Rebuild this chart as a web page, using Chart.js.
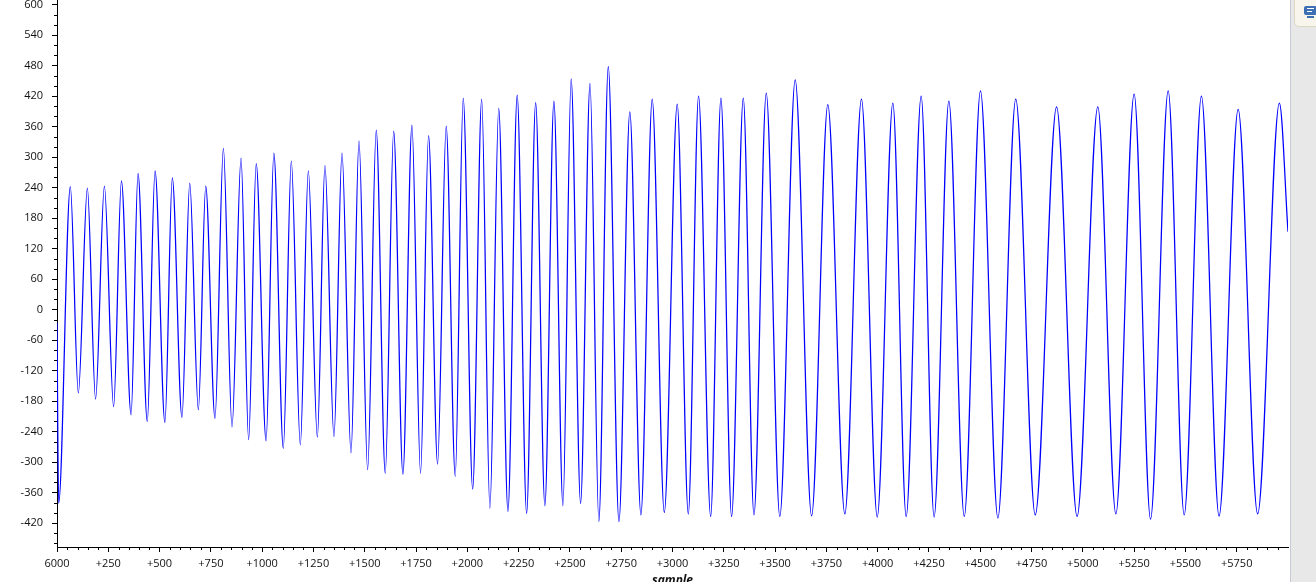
<!DOCTYPE html>
<html>
<head>
<meta charset="utf-8">
<script src="https://cdn.jsdelivr.net/npm/chart.js@4.4.1/dist/chart.umd.min.js"></script>
<style>
  html, body { margin: 0; padding: 0; background: #fff; overflow: hidden; }
  #wrap { position: absolute; left: 0; top: 0; width: 1290px; height: 590px; }
  #side { position: absolute; left: 1290px; top: 0; width: 26px; height: 582px; background: #e8e8e8; border-left: 1px solid #c6cad6; box-sizing: border-box; }
  #btn { position: absolute; left: 3px; top: -1px; width: 26px; height: 28px; background: #f8f6ec; border: 1px solid #dcd8c4; border-radius: 0 0 0 5px; box-sizing: border-box; }
  #mon { position: absolute; left: 9px; top: 6px; width: 13px; height: 9px; background: #3d6fb5; border-radius: 2px; }
  #mon i { position: absolute; left: 3px; height: 1px; background: #fff; }
  #stand { position: absolute; left: 12px; top: 16px; width: 7px; height: 2px; background: #3d6fb5; }
</style>
</head>
<body>
<div id="wrap"><canvas id="graph" width="1290" height="590"></canvas></div>
<div id="side"><div id="btn"><div id="mon"><i style="top:2px;width:7px"></i><i style="top:5px;width:5px"></i></div><div id="stand"></div></div></div>
<script>
// peaks and troughs (sample offset, value)
const sampleX = [0, 8, 65, 104, 148, 188, 231, 276, 314, 361, 395, 440, 478, 526, 562, 609, 647, 689, 725, 770,
  811, 853, 897, 934, 971, 1019, 1057, 1103, 1142, 1186, 1225, 1269, 1306, 1350, 1389, 1433, 1472, 1514,
  1556, 1600, 1641, 1686, 1730, 1772, 1811, 1855, 1897, 1941, 1980, 2026, 2070, 2110, 2153, 2198, 2243, 2289,
  2333, 2378, 2422, 2466, 2506, 2552, 2598, 2641, 2687, 2739, 2792, 2846, 2901, 2960, 3023, 3077, 3127, 3186,
  3236, 3288, 3345, 3397, 3457, 3523, 3598, 3678, 3757, 3840, 3921, 3998, 4074, 4139, 4212, 4275, 4347, 4422,
  4501, 4586, 4673, 4768, 4872, 4972, 5073, 5161, 5250, 5330, 5416, 5494, 5578, 5664, 5757, 5852, 5958, 6000];
const sampleY = [-26, -381, 242, -164, 239, -176, 243, -191, 253, -207, 268, -220, 273, -222, 259, -212, 249, -197, 243, -214,
  317, -231, 298, -256, 287, -258, 308, -273, 292, -266, 273, -251, 283, -250, 308, -282, 332, -315,
  353, -322, 351, -324, 363, -322, 342, -304, 361, -328, 416, -353, 414, -391, 396, -397, 422, -401,
  407, -386, 410, -386, 454, -381, 445, -417, 478, -417, 389, -404, 414, -399, 404, -402, 420, -407,
  416, -407, 416, -404, 426, -407, 452, -406, 403, -402, 414, -408, 406, -407, 420, -408, 410, -407,
  430, -410, 414, -404, 399, -407, 399, -402, 424, -412, 430, -404, 420, -406, 394, -402, 406, 153];

const xTickValues = [0, 250, 500, 750, 1000, 1250, 1500, 1750, 2000, 2250, 2500, 2750, 3000,
  3250, 3500, 3750, 4000, 4250, 4500, 4750, 5000, 5250, 5500, 5750];
const xTickLabels = ['6000', '+250', '+500', '+750', '+1000', '+1250', '+1500', '+1750', '+2000', '+2250', '+2500', '+2750', '+3000',
  '+3250', '+3500', '+3750', '+4000', '+4250', '+4500', '+4750', '+5000', '+5250', '+5500', '+5750'];
const yTickValues = [-420, -360, -300, -240, -180, -120, -60, 0, 60, 120, 180, 240, 300, 360, 420, 480, 540, 600];
const xTitle = 'sample';

let points = [];
for (let i = 0; i < sampleX.length; i++) {
  points.push({ x: sampleX[i], y: sampleY[i] });
}

// small ticks between the labelled ones
const minorTicks = {
  id: 'minorTicks',
  afterDraw(chart) {
    const c = chart.ctx;
    const xs = chart.scales.x;
    const ys = chart.scales.y;
    c.save();
    c.strokeStyle = '#000';
    c.lineWidth = 1;
    c.beginPath();
    for (let v = 0; v < 6000; v += 50) {
      if (v % 250 == 0) continue;
      let px = Math.round(xs.getPixelForValue(v)) + 0.5;
      c.moveTo(px, xs.top);
      c.lineTo(px, xs.top + 3);
    }
    for (let v = -460; v <= 600; v += 20) {
      if (v % 60 == 0) continue;
      let py = Math.round(ys.getPixelForValue(v)) + 0.5;
      c.moveTo(ys.right - 3, py);
      c.lineTo(ys.right, py);
    }
    c.stroke();
    c.restore();
  }
};

const ctx = document.getElementById('graph').getContext('2d');
const tickFont = { family: '"Open Sans", "DejaVu Sans", sans-serif', size: 11 };

new Chart(ctx, {
  type: 'line',
  data: {
    datasets: [{
      data: points,
      borderColor: '#0000ff',
      borderWidth: 1.25,
      pointRadius: 0,
      cubicInterpolationMode: 'monotone',
      fill: false
    }]
  },
  options: {
    responsive: false,
    animation: false,
    events: [],
    layout: { autoPadding: false, padding: { right: 2 } },
    plugins: { legend: { display: false }, tooltip: { enabled: false } },
    scales: {
      x: {
        type: 'linear',
        min: 0,
        max: 6000,
        afterBuildTicks: (scale) => { scale.ticks = xTickValues.map(v => ({ value: v })); },
        afterFit: (scale) => { scale.height = 43; scale.paddingLeft = 0; scale.paddingRight = 0; },
        ticks: {
          color: '#111',
          font: tickFont,
          padding: 5,
          maxRotation: 0,
          autoSkip: false,
          callback: (v, i) => xTickLabels[i]
        },
        grid: { drawOnChartArea: false, tickLength: 5, tickColor: '#000' },
        border: { display: true, color: '#000', width: 1 },
        title: {
          display: true,
          text: xTitle,
          color: '#111',
          font: { family: '"Open Sans", "DejaVu Sans", sans-serif', size: 12, style: 'italic', weight: 'bold' },
          padding: { top: 0, bottom: 2 }
        }
      },
      y: {
        type: 'linear',
        min: -467,
        max: 609,
        afterBuildTicks: (scale) => { scale.ticks = yTickValues.map(v => ({ value: v })); },
        afterFit: (scale) => { scale.width = 57; scale.paddingTop = 0; scale.paddingBottom = 0; },
        ticks: {
          color: '#111',
          font: tickFont,
          padding: 9,
          autoSkip: false,
          callback: (v) => String(v)
        },
        grid: { drawOnChartArea: false, tickLength: 5, tickColor: '#000' },
        border: { display: true, color: '#000', width: 1 }
      }
    }
  },
  plugins: [minorTicks]
});
</script>
</body>
</html>
